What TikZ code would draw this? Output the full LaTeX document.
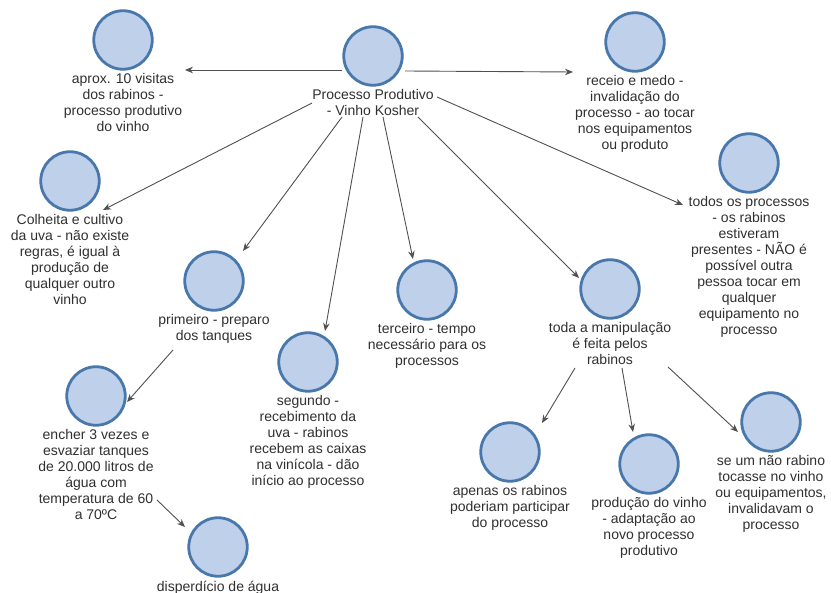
\documentclass[tikz,border=0pt]{standalone}
\usepackage{fontspec}
\setmainfont{Liberation Sans}
\usetikzlibrary{arrows.meta}
\definecolor{conceptfill}{HTML}{BFD0EA}
\definecolor{conceptline}{HTML}{4877AC}
\definecolor{linkgray}{HTML}{505050}
\definecolor{labelgray}{HTML}{303030}
\begin{document}
\begin{tikzpicture}[x=1pt,y=-1pt,
  concept/.style={circle, fill=conceptfill, draw=conceptline, line width=2.8pt,
    minimum size=58.5pt, inner sep=0pt},
  caption/.style={anchor=north, align=center, inner sep=0pt, text=labelgray,
    font=\fontsize{14}{16}\selectfont},
  link/.style={draw=linkgray, line width=0.9pt, -{Stealth[length=8pt,width=6.5pt]}}]

\fill[white] (0,0) rectangle (831,593);
\useasboundingbox (0,0) rectangle (831,593);

% concepts: circle with its caption underneath
\node[concept] (main) at (373,56) {};
\node[caption] (mainL) at ([yshift=-3pt]main.south) {Processo Produtivo\\- Vinho Kosher};

\node[concept] (visitas) at (123,40) {};
\node[caption] (visitasL) at ([yshift=-3pt]visitas.south) {aprox. 10 visitas\\dos rabinos -\\processo produtivo\\do vinho};

\node[concept] (receio) at (635,42) {};
\node[caption] (receioL) at ([yshift=-3pt]receio.south) {receio e medo -\\invalidação do\\processo - ao tocar\\nos equipamentos\\ou produto};

\node[concept] (todos) at (749,163) {};
\node[caption] (todosL) at ([yshift=-3pt]todos.south) {todos os processos\\- os rabinos\\estiveram\\presentes - NÃO é\\possível outra\\pessoa tocar em\\qualquer\\equipamento no\\processo};

\node[concept] (colheita) at (70,181) {};
\node[caption] (colheitaL) at ([yshift=-3pt]colheita.south) {Colheita e cultivo\\da uva - não existe\\regras, é igual à\\produção de\\qualquer outro\\vinho};

\node[concept] (primeiro) at (214,281) {};
\node[caption] (primeiroL) at ([yshift=-3pt]primeiro.south) {primeiro - preparo\\dos tanques};

\node[concept] (segundo) at (308,362) {};
\node[caption] (segundoL) at ([yshift=-3pt]segundo.south) {segundo -\\recebimento da\\uva - rabinos\\recebem as caixas\\na vinícola - dão\\início ao processo};

\node[concept] (terceiro) at (427,290) {};
\node[caption] (terceiroL) at ([yshift=-3pt]terceiro.south) {terceiro - tempo\\necessário para os\\processos};

\node[concept] (toda) at (610,289) {};
\node[caption] (todaL) at ([yshift=-3pt]toda.south) {toda a manipulação\\é feita pelos\\rabinos};

\node[concept] (encher) at (96,396) {};
\node[caption] (encherL) at ([yshift=-3pt]encher.south) {encher 3 vezes e\\esvaziar tanques\\de 20.000 litros de\\água com\\temperatura de 60\\a 70ºC};

\node[concept] (disperdicio) at (218,547) {};
\node[caption] (disperdicioL) at ([yshift=-3pt]disperdicio.south) {disperdício de água};

\node[concept] (apenas) at (510,452) {};
\node[caption] (apenasL) at ([yshift=-3pt]apenas.south) {apenas os rabinos\\poderiam participar\\do processo};

\node[concept] (producao) at (649,464) {};
\node[caption] (producaoL) at ([yshift=-3pt]producao.south) {produção do vinho\\- adaptação ao\\novo processo\\produtivo};

\node[concept] (seum) at (771,422) {};
\node[caption] (seumL) at ([yshift=-3pt]seum.south) {se um não rabino\\tocasse no vinho\\ou equipamentos,\\invalidavam o\\processo};

% links
\draw[link] ([shift={(-31,14)}]main.center) -- ([shift={(62,30)}]visitas.center);
\draw[link] ([shift={(32,15)}]main.center) -- ([shift={(-62,30)}]receio.center);
\draw[link] ([shift={(-61,47)}]main.center) -- ([shift={(33,29)}]colheita.center);
\draw[link] ([shift={(-31,61)}]main.center) -- ([shift={(29,-30)}]primeiro.center);
\draw[link] ([shift={(-10,61)}]main.center) -- ([shift={(17,-31)}]segundo.center);
\draw[link] ([shift={(10,61)}]main.center) -- ([shift={(-14,-31)}]terceiro.center);
\draw[link] ([shift={(45,61)}]main.center) -- ([shift={(-31,-11)}]toda.center);
\draw[link] ([shift={(64,41)}]main.center) -- ([shift={(-66,42)}]todos.center);
\draw[link] ([shift={(-41,69)}]primeiro.center) -- ([shift={(31,6)}]encher.center);
\draw[link] ([shift={(61,104)}]encher.center) -- ([shift={(-33,-20)}]disperdicio.center);
\draw[link] ([shift={(-35,79)}]toda.center) -- ([shift={(32,-29)}]apenas.center);
\draw[link] ([shift={(12,79)}]toda.center) -- ([shift={(-16,-32)}]producao.center);
\draw[link] ([shift={(58,78)}]toda.center) -- ([shift={(-33,10)}]seum.center);
\end{tikzpicture}
\end{document}
